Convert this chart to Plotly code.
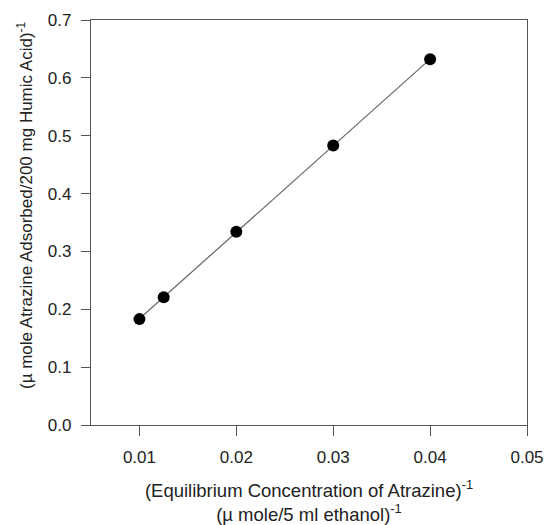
import numpy as np
import plotly.graph_objects as go

# Data
inv_conc = [0.01, 0.0125, 0.02, 0.03, 0.04]
inv_adsorbed = [0.183, 0.221, 0.334, 0.483, 0.632]

x_ticks = [0.01, 0.02, 0.03, 0.04, 0.05]
x_tick_labels = ["0.01", "0.02", "0.03", "0.04", "0.05"]
y_ticks = [0.0, 0.1, 0.2, 0.3, 0.4, 0.5, 0.6, 0.7]
y_tick_labels = ["0.0", "0.1", "0.2", "0.3", "0.4", "0.5", "0.6", "0.7"]

x_title = "(Equilibrium Concentration of Atrazine)<sup>-1</sup><br>(\u00b5 mole/5 ml ethanol)<sup>-1</sup>"
y_title = "(\u00b5 mole Atrazine Adsorbed/200 mg Humic Acid)<sup>-1</sup>"

# Linear regression line through the data
slope, intercept = np.polyfit(inv_conc, inv_adsorbed, 1)
fit_x = [min(inv_conc), max(inv_conc)]
fit_y = [slope * v + intercept for v in fit_x]

FONT = "Liberation Sans, Arial, sans-serif"
AX = "#555555"

fig = go.Figure()
fig.add_trace(go.Scatter(x=fit_x, y=fit_y, mode="lines",
                         line=dict(color="#666666", width=1.2), showlegend=False,
                         hoverinfo="skip"))
fig.add_trace(go.Scatter(x=inv_conc, y=inv_adsorbed, mode="markers",
                         marker=dict(color="black", size=12), showlegend=False))

fig.update_layout(
    width=546, height=525,
    margin=dict(l=91, r=19, t=20, b=100),
    paper_bgcolor="white", plot_bgcolor="white",
    font=dict(family=FONT, size=17, color="#222222"),
    xaxis=dict(range=[0.005, 0.05], tickvals=x_ticks, ticktext=x_tick_labels,
               ticks="outside", ticklen=10, tickcolor=AX, tickwidth=1,
               showline=True, linecolor=AX, linewidth=1.2, mirror=True,
               showgrid=False, zeroline=False, automargin=False,
               tickfont=dict(size=17), ticklabelstandoff=6,
               title=dict(text=x_title, font=dict(size=18.5), standoff=24)),
    yaxis=dict(range=[0, 0.7], tickvals=y_ticks, ticktext=y_tick_labels,
               ticks="outside", ticklen=9, tickcolor=AX, tickwidth=1,
               showline=True, linecolor=AX, linewidth=1.2, mirror=True,
               showgrid=False, zeroline=False, automargin=False,
               tickfont=dict(size=17), ticklabelstandoff=6),
    annotations=[dict(text=y_title, textangle=-90, xref="paper", yref="paper",
                      x=(25 - 91) / 436, y=(425 - 205) / 405,
                      xanchor="center", yanchor="middle", showarrow=False,
                      font=dict(size=17, color="#222222"))],
)

fig.write_html("out.html")
